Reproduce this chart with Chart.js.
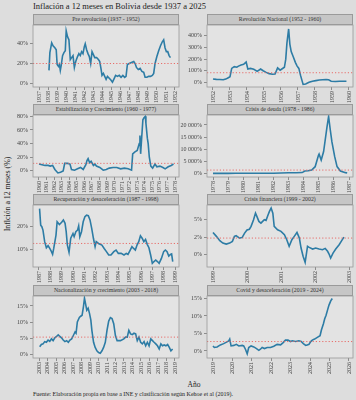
<!DOCTYPE html>
<html><head><meta charset="utf-8">
<script src="https://cdn.jsdelivr.net/npm/chart.js@4.4.1/dist/chart.umd.min.js"></script>
<style>
html,body{margin:0;padding:0;background:#dddddd;width:356px;height:400px;overflow:hidden;font-family:"Liberation Serif","DejaVu Serif",serif;}
#wrap{position:relative;width:356px;height:400px;}
.t{position:absolute;white-space:nowrap;color:#222;}
.strip{position:absolute;width:146px;background:#c6c6c6;border:0.8px solid #9a9a9a;box-sizing:border-box;font-size:5.8px;text-align:center;color:#333;white-space:nowrap;}
canvas{position:absolute;}
</style></head><body><div id="wrap">
<div class="t" style="left:33px;top:1.5px;font-size:8.5px;line-height:8.5px;">Inflación a 12 meses en Bolivia desde 1937 a 2025</div>
<div class="t" style="left:7.5px;top:194px;font-size:7.8px;line-height:7.8px;transform:translate(-50%,-50%) rotate(-90deg);">Inflción a 12 meses (%)</div>
<div class="t" style="left:194px;top:384.5px;font-size:7.5px;line-height:7.5px;transform:translate(-50%,-50%);">Año</div>
<div class="t" style="left:33px;top:391px;font-size:6px;line-height:6px;">Fuente: Elaboración propia en base a INE y clasificación según Kehoe et al (2019).</div>
</div>
<script>
// ---------------- DATA ----------------
const panelTitles = [
  "Pre revolución (1937 - 1952)", "Revolución Nacional (1952 - 1960)",
  "Estabilización y Crecimiento (1960 - 1977)", "Crisis de deuda (1978 - 1986)",
  "Recuperación y desaceleración (1987 - 1998)", "Crisis financiera (1999 - 2002)",
  "Nacionalización y crecimiento (2003 - 2018)", "Covid y desaceleración (2019 - 2024)"
];

const preRevYears = [1938.1,1938.2,1938.4,1938.55,1938.75,1938.9,1939.0,1939.15,1939.25,1939.35,
  1939.45,1939.6,1939.75,1939.9,1940.0,1940.15,1940.3,1940.45,1940.6,1940.75,
  1940.9,1941.05,1941.25,1941.4,1941.55,1941.7,1941.85,1942.0,1942.1,1942.25,
  1942.4,1942.55,1942.7,1942.85,1943.0,1943.15,1943.35,1943.55,1943.7,1943.85,
  1943.95,1944.1,1944.25,1944.4,1944.55,1944.75,1944.95,1945.1,1945.25,1945.45,
  1945.65,1945.85,1946.05,1946.25,1946.45,1946.6,1946.75,1946.95,1947.2,1947.45,
  1947.6,1947.75,1947.95,1948.15,1948.35,1948.55,1948.7,1948.9,1949.1,1949.3,
  1949.5,1949.65,1949.8,1950.0,1950.2,1950.4,1950.6,1950.75,1950.9,1951.05,
  1951.2,1951.35,1951.5];
const preRevValues = [13,31,41,38,36,34,19,17,19,13,
  18,28,31,33,53,47,44,24,26,28,
  16,22,27,30,28,32,30,37,40,34,
  30,27,20,32,29,26,26,24,22,14,
  8,10,7,4,7,5,3,1,4,8,
  7,8,6,8,6,7,19,20,21,22,
  20,16,14,15,12,11,6,6,7,7,
  8,10,20,27,33,38,42,44,36,32,
  32,28,26];

const revNacYears = [1952.0,1952.2,1952.4,1952.6,1952.75,1952.9,1953.0,1953.1,1953.25,1953.4,
  1953.5,1953.65,1953.8,1953.95,1954.05,1954.2,1954.4,1954.6,1954.8,1954.95,
  1955.1,1955.3,1955.5,1955.65,1955.8,1955.95,1956.05,1956.2,1956.28,1956.35,
  1956.45,1956.52,1956.6,1956.72,1956.85,1956.95,1957.05,1957.15,1957.3,1957.45,
  1957.65,1957.85,1958.05,1958.25,1958.45,1958.65,1958.8,1958.95,1959.2,1959.45,
  1959.65,1959.85];
const revNacValues = [29,26,25,22,28,40,48,120,135,130,
  140,150,155,175,115,120,112,95,115,100,
  88,75,70,72,125,105,115,130,200,340,
  460,330,265,220,170,140,120,60,-18,-14,
  0,10,15,20,23,25,22,10,8,9,
  10,10];

const estabYears = [1960.0,1960.4,1960.8,1961.2,1961.5,1961.8,1962.1,1962.5,1962.85,1963.2,
  1963.4,1963.8,1964.1,1964.3,1964.7,1965.1,1965.5,1965.85,1966.2,1966.35,
  1966.5,1966.7,1966.9,1967.2,1967.4,1967.6,1968.05,1968.5,1968.9,1969.3,
  1969.8,1970.3,1970.8,1971.3,1971.8,1972.25,1972.4,1972.7,1973.0,1973.27,
  1973.36,1973.45,1973.6,1973.75,1973.9,1974.07,1974.15,1974.34,1974.45,1974.6,
  1974.8,1975.04,1975.35,1975.6,1976.0,1976.4,1976.7,1977.1,1977.5,1977.8];
const estabValues = [10,9,8,8,7,8,2,-3,-2,0,
  11,11,10,2,1,3,5,2,9,15,
  18,12,14,8,10,7,5,1,2,4,
  5,5,3,4,3,1,25,28,30,40,
  52,25,50,75,78,80,70,48,40,20,
  7,4,10,6,7,5,3,6,8,10];

const deudaYears = [1978.0,1978.5,1979.0,1979.5,1980.0,1980.5,1981.0,1981.5,1982.0,1982.5,
  1983.0,1983.5,1983.9,1984.08,1984.3,1984.53,1984.76,1984.98,1985.02,1985.16,
  1985.32,1985.54,1985.65,1985.76,1985.87,1986.05,1986.21,1986.43,1986.77,1986.88];
const deudaValues = [10,12,15,20,40,45,30,25,60,150,
  250,280,330,1000,1100,1400,2750,7500,8000,5500,
  9000,19000,23500,18000,13000,7000,2800,1000,300,150];

const recupYears = [1987.05,1987.15,1987.25,1987.35,1987.5,1987.65,1987.8,1987.95,1988.1,1988.2,
  1988.3,1988.5,1988.6,1988.8,1989.0,1989.15,1989.3,1989.4,1989.5,1989.65,
  1989.8,1990.0,1990.1,1990.25,1990.4,1990.5,1990.6,1990.75,1990.9,1991.05,
  1991.2,1991.35,1991.5,1991.65,1991.8,1991.95,1992.05,1992.25,1992.55,1992.75,
  1992.95,1993.15,1993.35,1993.6,1993.8,1994.0,1994.25,1994.5,1994.7,1994.85,
  1995.05,1995.2,1995.35,1995.5,1995.65,1995.8,1995.95,1996.1,1996.25,1996.4,
  1996.55,1996.7,1996.85,1997.0,1997.15,1997.3,1997.45,1997.6,1997.8,1998.0,
  1998.15,1998.3,1998.45,1998.6,1998.7,1998.8];
const recupValues = [28,20.7,20,18.5,13.4,10.7,11.6,10.4,9,7.8,
  10.4,16.3,22.2,21,22,23,21.5,17.8,12,8.7,
  14.9,17,15.6,17.8,18.5,20.4,15.6,17.8,22.2,24.4,
  25.1,24.9,23,19.3,14.9,11.2,13.4,12.6,11.9,10.4,
  9,7.5,7.5,9,9.7,8.2,8.2,7.5,8.2,7.8,
  9.7,11.2,10.4,9.7,11.9,13.4,16,14.9,13.4,14.4,
  12.2,10.7,7.5,3.8,4.6,5.3,4.6,3.8,6,9,
  9.7,9,7,7.8,8,4.6];

const financYears = [1999.0,1999.1,1999.2,1999.29,1999.39,1999.49,1999.57,1999.63,1999.68,1999.78,
  1999.86,1999.93,2000.0,2000.07,2000.12,2000.19,2000.25,2000.29,2000.35,2000.41,
  2000.46,2000.51,2000.56,2000.61,2000.66,2000.71,2000.76,2000.8,2000.9,2001.0,
  2001.1,2001.17,2001.24,2001.32,2001.39,2001.47,2001.54,2001.59,2001.65,2001.71,
  2001.78,2001.83,2001.93,2002.02,2002.12,2002.22,2002.3,2002.37,2002.41,2002.46,
  2002.53,2002.61,2002.71,2002.79,2002.85];
const financValues = [3.15,2.6,2.0,1.66,1.52,1.66,1.9,2.6,2.7,2.36,
  2.45,3.06,3.5,3.6,4.0,4.9,5.86,5.4,4.7,4.46,
  4.7,4.93,4.84,5.5,6.1,6.57,5.86,4.0,3.53,3.3,
  2.83,2.13,1.2,2.13,2.6,3.15,2.36,0.96,-0.2,-1.05,
  1.2,1.05,0.82,0.96,0.82,0.72,0.91,0.5,0.16,-0.44,
  0.26,0.82,1.43,2.03,2.5];

const nacionYears = [2003.08,2003.28,2003.48,2003.67,2003.87,2004.07,2004.27,2004.47,2004.66,2004.86,
  2005.06,2005.26,2005.46,2005.65,2005.85,2006.05,2006.25,2006.45,2006.64,2006.84,
  2007.04,2007.24,2007.36,2007.51,2007.75,2007.91,2008.07,2008.23,2008.35,2008.47,
  2008.62,2008.78,2008.94,2009.1,2009.22,2009.42,2009.61,2009.81,2010.01,2010.21,
  2010.41,2010.6,2010.8,2011.0,2011.2,2011.4,2011.59,2011.79,2011.99,2012.19,
  2012.58,2012.98,2013.18,2013.38,2013.57,2013.77,2013.97,2014.17,2014.37,2014.56,
  2014.76,2014.96,2015.16,2015.36,2015.55,2015.75,2015.95,2016.15,2016.35,2016.54,
  2016.74,2016.94,2017.14,2017.34,2017.53,2017.73,2017.93,2018.13,2018.33,2018.52,
  2018.72];
const nacionValues = [2.3,3.0,3.2,3.9,3.7,4.4,4.0,4.75,4.2,5.1,
  5.5,6.0,5.5,5.1,4.4,3.9,4.2,3.7,4.4,4.75,
  5.8,6.9,6.5,10.0,11.4,11.8,12.1,14.8,17.4,15.8,
  13.7,14.3,12.7,10.6,7.4,3.7,2.1,1.05,0.5,0.3,
  1.05,2.1,3.7,7.4,10.3,11.4,11.1,9.5,5.8,4.2,
  4.2,4.75,5.3,5.3,7.4,6.3,6.1,6.5,6.3,4.2,
  5.3,3.7,3.2,3.9,2.6,3.7,2.6,4.75,4.2,3.7,
  3.2,2.6,1.6,3.2,2.6,2.85,2.6,3.0,2.1,1.05,
  1.6];

const covidYears = [2019.0,2019.07,2019.21,2019.38,2019.55,2019.72,2019.81,2019.86,2019.93,2020.07,
  2020.2,2020.33,2020.5,2020.58,2020.67,2020.76,2020.84,2020.96,2021.1,2021.24,
  2021.36,2021.44,2021.53,2021.65,2021.79,2021.96,2022.13,2022.3,2022.48,2022.61,
  2022.73,2022.86,2022.99,2023.08,2023.25,2023.42,2023.54,2023.65,2023.77,2023.85,
  2023.94,2024.03,2024.11,2024.23,2024.37,2024.51,2024.58,2024.68,2024.75,2024.82,
  2024.89,2024.97,2025.06,2025.14];
const covidValues = [1.45,1.0,1.16,1.74,2.1,2.6,2.9,3.4,1.45,1.6,
  1.9,1.45,1.6,1.45,0.5,-0.8,1.0,1.45,1.16,0.7,
  0.2,0.5,1.0,0.7,1.0,1.0,1.35,1.9,1.74,2.4,
  3.1,3.1,2.7,2.9,2.7,2.9,2.7,2.1,1.6,1.74,
  1.9,2.7,3.1,3.4,3.9,4.35,6.0,7.7,9.2,10.2,
  11.6,13.1,14.3,15.0];

const meanValues = [20, 83, 11, 1360, 12.6, 2.36, 5.3, 2.7];

const xTickYears = [
  [1937,1938,1939,1940,1941,1942,1943,1944,1945,1946,1947,1948,1949,1950,1951,1952],
  [1952,1953,1954,1955,1956,1957,1958,1959,1960],
  [1960,1961,1962,1963,1964,1965,1966,1967,1968,1969,1970,1971,1972,1973,1974,1975,1976,1977,1978],
  [1978,1979,1980,1981,1982,1983,1984,1985,1986,1987],
  [1987,1988,1989,1990,1991,1992,1993,1994,1995,1996,1997,1998,1999],
  [1999,2000,2001,2002,2003],
  [2003,2004,2005,2006,2007,2008,2009,2010,2011,2012,2013,2014,2015,2016,2017,2018,2019],
  [2019,2020,2021,2022,2023,2024,2025,2026]
];
const yTickValues = [[0,20,40],[0,100,200,300,400],[0,20,40,60,80],[0,5000,10000,15000,20000],
  [10,20],[0,2.5,5],[0,5,10,15],[0,5,10,15]];
const yTickLabels = [["0%","20%","40%"],["0%","100%","200%","300%","400%"],["0%","20%","40%","60%","80%"],
  ["0%","5 000%","10 000%","15 000%","20 000%"],["10%","20%"],["0%","2%","5%"],
  ["0%","5%","10%","15%"],["0%","5%","10%","15%"]];
const yLimits = [[-3.8,59],[-40,494],[-9,82],[-1500,24100],[2.2,29.6],[-1.7,7.0],[-1.2,18.1],[-2,15.7]];

const seriesYears = [preRevYears, revNacYears, estabYears, deudaYears, recupYears, financYears, nacionYears, covidYears];
const seriesValues = [preRevValues, revNacValues, estabValues, deudaValues, recupValues, financValues, nacionValues, covidValues];

// ---------------- LAYOUT / STYLE ----------------
const L = { cols:[33,207], plotTops:[25,115,205,296], plotW:146, plotH:62, stripH:11,
  yAxisW:[33,27], xAxisH:22, padTop:6, padRight:8, tickFirst:6, tickLast:4 };
const tickFont = { family:"Liberation Serif", size:6 };
const panelBg = {
  id:'panelBg',
  beforeDraw(chart){ const {ctx, chartArea:a} = chart; ctx.save(); ctx.fillStyle='#e3e3e3';
    ctx.fillRect(a.left,a.top,a.right-a.left,a.bottom-a.top); ctx.restore(); },
  afterDraw(chart){ const {ctx, chartArea:a} = chart; ctx.save(); ctx.strokeStyle='#9a9a9a'; ctx.lineWidth=0.8;
    ctx.strokeRect(a.left,a.top,a.right-a.left,a.bottom-a.top); ctx.restore(); }
};

const wrap = document.getElementById('wrap');
panelTitles.forEach((title, i) => {
  const col = i % 2, row = Math.floor(i / 2);
  const left = L.cols[col], top = L.plotTops[row];
  const s = document.createElement('div');
  s.className = 'strip';
  s.style.left = left + 'px'; s.style.top = (top - L.stripH) + 'px';
  s.style.height = L.stripH + 'px'; s.style.lineHeight = (L.stripH - 1.6) + 'px';
  s.textContent = title;
  wrap.appendChild(s);

  const yW = L.yAxisW[col];
  const c = document.createElement('canvas');
  c.width = yW + L.plotW + L.padRight; c.height = L.padTop + L.plotH + L.xAxisH;
  c.style.left = (left - yW) + 'px'; c.style.top = (top - L.padTop) + 'px';
  wrap.appendChild(c);

  const xt = xTickYears[i];
  const first = xt[0], last = xt[xt.length - 1];
  const ppy = (L.plotW - L.tickFirst - L.tickLast) / (last - first);
  const xmin = first - L.tickFirst / ppy, xmax = last + L.tickLast / ppy;
  const yrs = seriesYears[i], vals = seriesValues[i];

  new Chart(c, {
    type: 'line',
    data: { datasets: [
      { data: yrs.map((x, k) => ({ x, y: vals[k] })), borderColor: '#2d7ca5', borderWidth: 1.6,
        pointRadius: 0, tension: 0, order: 1 },
      { data: [{ x: xmin, y: meanValues[i] }, { x: xmax, y: meanValues[i] }], borderColor: '#e8605c',
        borderWidth: 0.9, borderDash: [1.2, 2], pointRadius: 0, order: 0 }
    ]},
    options: {
      responsive: false, animation: false, devicePixelRatio: 1,
      layout: { padding: { top: L.padTop, right: L.padRight, left: 0, bottom: 0 } },
      plugins: { legend: { display: false }, tooltip: { enabled: false } },
      scales: {
        x: { type: 'linear', min: xmin, max: xmax,
          afterBuildTicks: ax => { ax.ticks = xt.map(v => ({ value: v })); },
          afterFit: sc => { sc.height = L.xAxisH; },
          ticks: { autoSkip: false, minRotation: 90, maxRotation: 90, padding: 1, includeBounds: false,
            font: tickFont, color: '#444', callback: v => String(v) },
          grid: { drawOnChartArea: false, drawTicks: true, tickLength: 3, color: '#555', lineWidth: 0.6 },
          border: { display: false } },
        y: { type: 'linear', min: yLimits[i][0], max: yLimits[i][1],
          afterBuildTicks: ax => { ax.ticks = yTickValues[i].map(v => ({ value: v })); },
          afterFit: sc => { sc.width = yW; },
          ticks: { padding: 2, includeBounds: false, font: tickFont, color: '#444',
            callback: v => yTickLabels[i][yTickValues[i].indexOf(v)] },
          grid: { drawOnChartArea: false, drawTicks: true, tickLength: 3, color: '#555', lineWidth: 0.6 },
          border: { display: false } }
      }
    },
    plugins: [panelBg]
  });
});
</script>
</body></html>
